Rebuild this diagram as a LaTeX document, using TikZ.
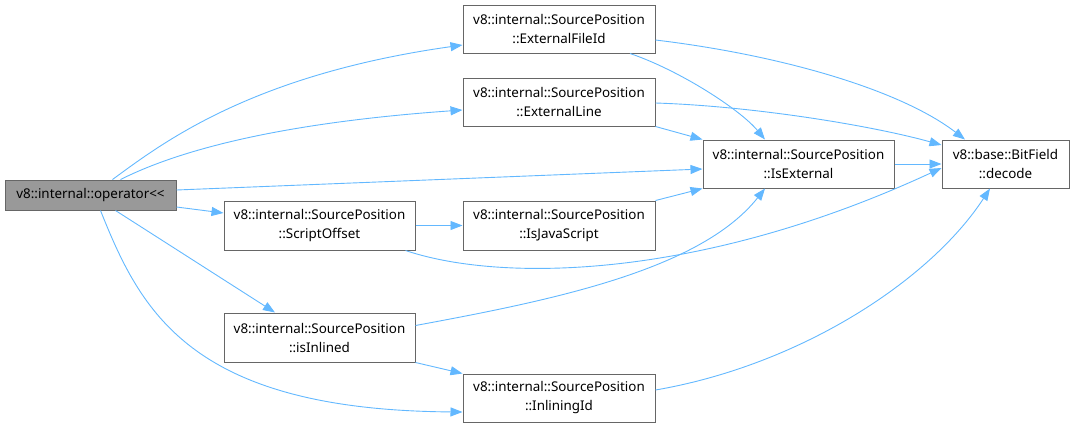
\documentclass[tikz,border=0pt]{standalone}
\usepackage{fontspec}
\setmainfont{Noto Sans}
\usetikzlibrary{arrows.meta,calc}
\definecolor{edgeblue}{HTML}{63B8FF}
\definecolor{boxborder}{HTML}{666666}
\definecolor{opfill}{HTML}{999999}
\tikzset{
  fn/.style={draw=boxborder, line width=1pt, fill=white, align=center, inner sep=0pt,
    minimum width=192pt, minimum height=48pt, font=\fontsize{13.4}{19}\selectfont},
  edge/.style={draw=edgeblue, line width=0.9pt, -{Triangle[length=12pt,width=9pt]}}
}
\begin{document}
\begin{tikzpicture}[x=1pt,y=-1pt]
\useasboundingbox (0,0) rectangle (1075,429);
\node[fn, fill=opfill, minimum width=171pt, minimum height=30pt] (op) at (90.5,195) {v8::internal::operator<{}<};
\node[fn] (ef) at (559,29) {v8::internal::SourcePosition\\::ExternalFileId};
\node[fn] (el) at (559,102) {v8::internal::SourcePosition\\::ExternalLine};
\node[fn, minimum width=191pt] (ie) at (798.5,164) {v8::internal::SourcePosition\\::IsExternal};
\node[fn, minimum width=127pt] (dc) at (1005.5,164) {v8::base::BitField\\::decode};
\node[fn, minimum width=191pt, minimum height=49pt] (so) at (319.5,225.5) {v8::internal::SourcePosition\\::ScriptOffset};
\node[fn, minimum height=49pt] (js) at (559,225.5) {v8::internal::SourcePosition\\::IsJavaScript};
\node[fn, minimum width=191pt, minimum height=49pt] (ii) at (319.5,337.5) {v8::internal::SourcePosition\\::isInlined};
\node[fn] (il) at (559,398) {v8::internal::SourcePosition\\::InliningId};

\draw[edge] ($(op.north)+(22,0)$) .. controls +(48,-35) and +(-213,30) .. ($(ef.west)+(0,16)$);
\draw[edge] ($(op.north)+(30,0)$) .. controls +(40,-20) and +(-213,15) .. ($(el.west)+(0,8)$);
\draw[edge] ($(op.east)+(0,-5)$) -- ($(ie.west)+(0,5)$);
\draw[edge] ($(op.east)+(0,12)$) -- ($(so.west)+(0,-12.5)$);
\draw[edge] ($(op.south)+(25,0)$) -- ($(ii.north)+(-44.5,0)$);
\draw[edge] ($(op.south)+(10,0)$) .. controls +(40,100) and +(-273,-2) .. ($(il.west)+(0,14)$);
\draw[edge] ($(ef.south)+(71,0)$) .. controls +(50,17) and +(-25,-30) .. ($(ie.north)+(-33.5,0)$);
\draw[edge] ($(ef.east)+(0,11)$) .. controls +(125,15) and +(-65,-50) .. ($(dc.north)+(-40.5,0)$);
\draw[edge] (el.south east) -- (ie.north west);
\draw[edge] ($(el.east)+(0,1)$) .. controls +(95,3) and +(-72,-20) .. ($(dc.west)+(0,-19)$);
\draw[edge] (ie.east) -- (dc.west);
\draw[edge] (so.east) -- (js.west);
\draw[edge] ($(so.south east)+(-10,0)$) .. controls +(95,32) and +(-242,112) .. ($(dc.west)+(0,4)$);
\draw[edge] (js.north east) -- (ie.south west);
\draw[edge] ($(ii.east)+(0,-12)$) .. controls +(135,-25) and +(-65,82) .. ($(ie.south)+(-33.5,0)$);
\draw[edge] (ii.south east) -- (il.north west);
\draw[edge] ($(il.east)+(0,-8)$) .. controls +(145,-25) and +(-60,92) .. ($(dc.south)+(-15.5,0)$);
\end{tikzpicture}
\end{document}
